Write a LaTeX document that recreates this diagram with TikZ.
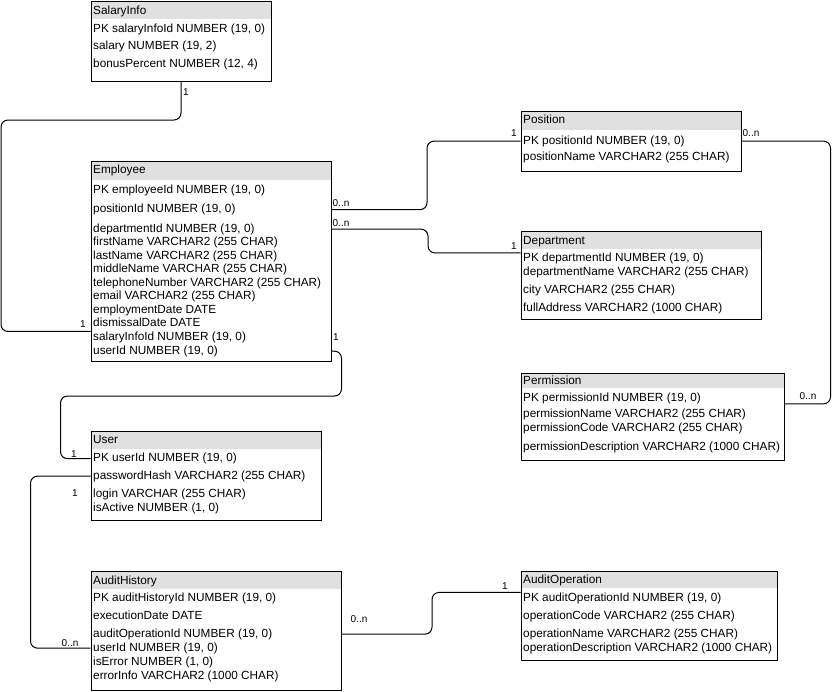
\documentclass[tikz,border=0pt]{standalone}
\usepackage{fontspec}
\setmainfont{Liberation Sans}
\definecolor{headgray}{HTML}{E0E0E0}
\tikzset{
  tbl/.style={draw, line width=1pt, anchor=north west, inner sep=0pt},
  head/.style={fill=headgray, anchor=north west, inner sep=0pt},
  row/.style={anchor=base west, inner sep=0pt, yshift=-4.2pt, font=\fontsize{11.8}{14}\selectfont},
  card/.style={anchor=base, inner sep=0pt, yshift=-3.5pt, font=\fontsize{10}{12}\selectfont},
  link/.style={line width=1pt, rounded corners=7pt}
}

\begin{document}
\begin{tikzpicture}[x=1pt, y=-1pt]
    \useasboundingbox (0,0) rectangle (832,691);

    % SalaryInfo
    \node[head, minimum width=180pt, minimum height=18pt] (salaryHead) at (90.5,0.5) {};
    \node[tbl, minimum width=180pt, minimum height=80pt] (salary) at (90.5,0.5) {};
    \node[row] (salaryTitle) at (93,10) {SalaryInfo};
    \node[row] (salaryPK) at (93,28.5) {PK salaryInfoId NUMBER (19, 0)};
    \node[row] (salaryAmount) at (93,45.5) {salary NUMBER (19, 2)};
    \node[row] (salaryBonus) at (93,63) {bonusPercent NUMBER (12, 4)};

    % Employee
    \node[head, minimum width=240pt, minimum height=19.5pt] (empHead) at (90.5,160.5) {};
    \node[tbl, minimum width=240pt, minimum height=200pt] (employee) at (90.5,160.5) {};
    \node[row] (empTitle) at (93,169.5) {Employee};
    \node[row] (empPK) at (93,189) {PK employeeId NUMBER (19, 0)};
    \node[row] (empPos) at (93,208.5) {positionId NUMBER (19, 0)};
    \node[row] (empDep) at (93,228) {departmentId NUMBER (19, 0)};
    \node[row] (empFirst) at (93,241.5) {firstName VARCHAR2 (255 CHAR)};
    \node[row] (empLast) at (93,255) {lastName VARCHAR2 (255 CHAR)};
    \node[row] (empMiddle) at (93,268.5) {middleName VARCHAR (255 CHAR)};
    \node[row] (empPhone) at (93,282) {telephoneNumber VARCHAR2 (255 CHAR)};
    \node[row] (empMail) at (93,295.5) {email VARCHAR2 (255 CHAR)};
    \node[row] (empHired) at (93,309) {employmentDate DATE};
    \node[row] (empFired) at (93,322.5) {dismissalDate DATE};
    \node[row] (empSalary) at (93,336) {salaryInfoId NUMBER (19, 0)};
    \node[row] (empUser) at (93,350) {userId NUMBER (19, 0)};

    % Position
    \node[head, minimum width=220pt, minimum height=19pt] (posHead) at (520.5,110.5) {};
    \node[tbl, minimum width=220pt, minimum height=60pt] (position) at (520.5,110.5) {};
    \node[row] (posTitle) at (523,119.5) {Position};
    \node[row] (posPK) at (523,140) {PK positionId NUMBER (19, 0)};
    \node[row] (posName) at (523,156.5) {positionName VARCHAR2 (255 CHAR)};

    % Department
    \node[head, minimum width=240pt, minimum height=18pt] (depHead) at (520.5,230.5) {};
    \node[tbl, minimum width=240pt, minimum height=88pt] (department) at (520.5,230.5) {};
    \node[row] (depTitle) at (523,240) {Department};
    \node[row] (depPK) at (523,257.5) {PK departmentId NUMBER (19, 0)};
    \node[row] (depName) at (523,271.5) {departmentName VARCHAR2 (255 CHAR)};
    \node[row] (depCity) at (523,289) {city VARCHAR2 (255 CHAR)};
    \node[row] (depAddress) at (523,307) {fullAddress VARCHAR2 (1000 CHAR)};

    % Permission
    \node[head, minimum width=263pt, minimum height=15.5pt] (permHead) at (520.5,372.5) {};
    \node[tbl, minimum width=263pt, minimum height=87pt] (permission) at (520.5,372.5) {};
    \node[row] (permTitle) at (523,380.5) {Permission};
    \node[row] (permPK) at (523,397) {PK permissionId NUMBER (19, 0)};
    \node[row] (permName) at (523,413) {permissionName VARCHAR2 (255 CHAR)};
    \node[row] (permCode) at (523,427) {permissionCode VARCHAR2 (255 CHAR)};
    \node[row] (permText) at (523,446) {permissionDescription VARCHAR2 (1000 CHAR)};

    % User
    \node[head, minimum width=230pt, minimum height=18pt] (userHead) at (90.5,430.5) {};
    \node[tbl, minimum width=230pt, minimum height=89.5pt] (user) at (90.5,430.5) {};
    \node[row] (userTitle) at (93,439.5) {User};
    \node[row] (userPK) at (93,457.5) {PK userId NUMBER (19, 0)};
    \node[row] (userHash) at (93,475) {passwordHash VARCHAR2 (255 CHAR)};
    \node[row] (userLogin) at (93,493) {login VARCHAR (255 CHAR)};
    \node[row] (userActive) at (93,507) {isActive NUMBER (1, 0)};

    % AuditHistory
    \node[head, minimum width=250pt, minimum height=18.5pt] (ahHead) at (90.5,570.5) {};
    \node[tbl, minimum width=250pt, minimum height=119pt] (auditHistory) at (90.5,570.5) {};
    \node[row] (ahTitle) at (93,580) {AuditHistory};
    \node[row] (ahPK) at (93,597) {PK auditHistoryId NUMBER (19, 0)};
    \node[row] (ahDate) at (93,615) {executionDate DATE};
    \node[row] (ahOp) at (93,633) {auditOperationId NUMBER (19, 0)};
    \node[row] (ahUser) at (93,647) {userId NUMBER (19, 0)};
    \node[row] (ahError) at (93,661) {isError NUMBER (1, 0)};
    \node[row] (ahInfo) at (93,675) {errorInfo VARCHAR2 (1000 CHAR)};

    % AuditOperation
    \node[head, minimum width=256pt, minimum height=17pt] (opHead) at (520.5,570.5) {};
    \node[tbl, minimum width=256pt, minimum height=89.5pt] (auditOperation) at (520.5,570.5) {};
    \node[row] (opTitle) at (523,579) {AuditOperation};
    \node[row] (opPK) at (523,597) {PK auditOperationId NUMBER (19, 0)};
    \node[row] (opCode) at (523,615) {operationCode VARCHAR2 (255 CHAR)};
    \node[row] (opName) at (523,633) {operationName VARCHAR2 (255 CHAR)};
    \node[row] (opText) at (523,647) {operationDescription VARCHAR2 (1000 CHAR)};

    % connectors
    \coordinate (leftBus) at (30.5,0);
    \coordinate (rightBus) at (830.5,0);

    \draw[link] (salary.south) |- (1,120) |- (employee.west |- empSalary.north);
    \draw[link] (employee.east |- empPos.west) -- ++(95.5,0) |- (position.west |- posPK.west);
    \draw[link] (employee.east |- empDep.west) -- ++(96.5,0) |- (department.west |- depPK.north);
    \draw[link] (position.east |- posPK.west) -| (rightBus |- permPK.south) -- (permission.east |- permPK.south);
    \draw[link] (employee.east |- empUser.west) -- ++(10,0) |- (60.5,396) |- (user.west |- userPK.west);
    \draw[link] (user.west |- userHash.west) -| (leftBus |- ahUser.west) -- (auditHistory.west |- ahUser.west);
    \draw[link] (auditHistory.east |- ahOp.west) -- ++(90.5,0) |- (auditOperation.west |- opPK.north);

    % cardinalities
    \node[card] (c1a) at (186,92) {1};
    \node[card] (c1b) at (83,324) {1};
    \node[card] (c2a) at (341,203) {0..n};
    \node[card] (c2b) at (514,133) {1};
    \node[card] (c3a) at (341,223) {0..n};
    \node[card] (c3b) at (514,246) {1};
    \node[card] (c4a) at (751,133) {0..n};
    \node[card] (c4b) at (808,396) {0..n};
    \node[card] (c5a) at (336,337) {1};
    \node[card] (c5b) at (74,454) {1};
    \node[card] (c6a) at (75,493) {1};
    \node[card] (c6b) at (70,643) {0..n};
    \node[card] (c7a) at (359,619) {0..n};
    \node[card] (c7b) at (505,586) {1};
\end{tikzpicture}
\end{document}
